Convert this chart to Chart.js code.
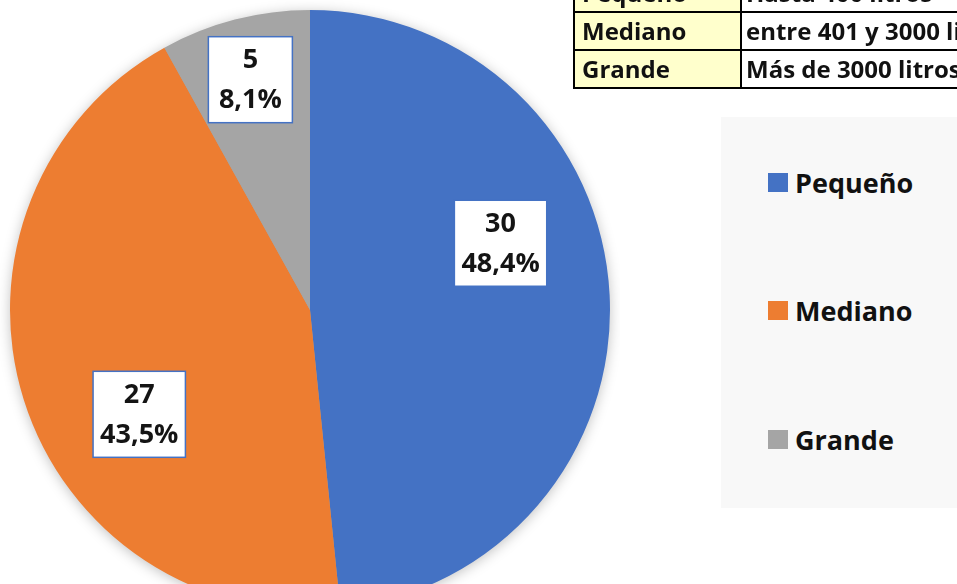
<!DOCTYPE html>
<html>
<head>
<meta charset="utf-8">
<script src="https://cdn.jsdelivr.net/npm/chart.js@4.4.1/dist/chart.umd.min.js"></script>
<style>
  html, body { margin: 0; padding: 0; background: #fff; }
  body { width: 957px; height: 584px; overflow: hidden; position: relative; font-family: 'Open Sans', sans-serif; }
  #pieWrap { position: absolute; left: 0; top: 0; width: 620px; height: 620px; }
  #sizeTable { position: absolute; left: 573px; top: -27px; width: 500px; table-layout: fixed; border-collapse: collapse; font-weight: 700; font-size: 24px; color: #111; }
  #sizeTable td { border: 2px solid #000; height: 36px; padding: 0 0 0 7px; line-height: 36px; white-space: nowrap; overflow: hidden; }
  #sizeTable td.cat { background: #ffffcc; width: 167px; }
  #sizeTable td.desc { background: #fff; padding-left: 4px; }
  #legendBox { position: absolute; left: 721px; top: 117px; width: 250px; height: 391px; background: #f8f8f8; }
  .lg { position: absolute; left: 47px; display: flex; align-items: center; font-weight: 700; font-size: 27px; color: #111; }
  .lg span.sw { display: inline-block; width: 20px; height: 19px; margin-right: 7px; }
</style>
</head>
<body>
<div id="pieWrap"><canvas id="pie" width="620" height="620"></canvas></div>
<table id="sizeTable"><colgroup><col style="width:167px"><col></colgroup></table>
<div id="legendBox"></div>
<script>
// categories and counts
const categories = ['Pequeño', 'Mediano', 'Grande'];
const counts = [30, 27, 5];
const percentLabels = ['48,4%', '43,5%', '8,1%'];
const sliceColors = ['#4472c4', '#ed7d31', '#a5a5a5'];

// size definitions table (top right, partly cut off)
const tableCats = ['Pequeño', 'Mediano', 'Grande'];
const tableDesc = ['Hasta 400 litros', 'entre 401 y 3000 litros', 'Más de 3000 litros'];

// label placement relative to slice middle: angle shift (deg), radius fraction
const labelShift = [-16.4, -14, 0];
const labelRadius = [0.673, 0.667, 0.793];

const table = document.getElementById('sizeTable');
tableCats.forEach((c, i) => {
  const tr = document.createElement('tr');
  tr.innerHTML = `<td class="cat">${c}</td><td class="desc">${tableDesc[i]}</td>`;
  table.appendChild(tr);
});

/** soft shadow under the whole pie */
const pieShadow = {
  id: 'pieShadow',
  beforeDatasetsDraw(chart) {
    const arc = chart.getDatasetMeta(0).data[0];
    if (!arc) return;
    const { x, y, outerRadius } = arc.getProps(['x', 'y', 'outerRadius'], true);
    const ctx = chart.ctx;
    ctx.save();
    ctx.shadowColor = 'rgba(0,0,0,0.28)';
    ctx.shadowBlur = 14;
    ctx.shadowOffsetY = 2;
    ctx.fillStyle = '#a5a5a5';
    ctx.beginPath();
    ctx.arc(x, y, outerRadius - 1, 0, Math.PI * 2);
    ctx.fill();
    ctx.restore();
  },
};

/** boxed value + percent labels */
const boxLabels = {
  id: 'boxLabels',
  afterDatasetsDraw(chart) {
    const ctx = chart.ctx;
    chart.getDatasetMeta(0).data.forEach((arc, i) => {
      const { x, y, startAngle, endAngle, outerRadius } =
        arc.getProps(['x', 'y', 'startAngle', 'endAngle', 'outerRadius'], true);
      const a = (startAngle + endAngle) / 2 + labelShift[i] * Math.PI / 180;
      const r = outerRadius * labelRadius[i];
      const cx = x + Math.cos(a) * r;
      const cy = y + Math.sin(a) * r;
      const l1 = String(counts[i]);
      const l2 = percentLabels[i];
      ctx.save();
      ctx.font = "700 27px 'Open Sans'";
      const w = Math.max(84, Math.max(ctx.measureText(l1).width, ctx.measureText(l2).width) + 14);
      const h = 86;
      ctx.fillStyle = '#fff';
      ctx.fillRect(cx - w / 2, cy - h / 2, w, h);
      ctx.strokeStyle = '#4472c4';
      ctx.lineWidth = 1.5;
      ctx.strokeRect(cx - w / 2, cy - h / 2, w, h);
      ctx.fillStyle = '#141414';
      ctx.textAlign = 'center';
      ctx.textBaseline = 'middle';
      ctx.fillText(l1, cx, cy - 19);
      ctx.fillText(l2, cx, cy + 21);
      ctx.restore();
    });
  },
};

const chart = new Chart(document.getElementById('pie'), {
  type: 'pie',
  data: {
    labels: categories,
    datasets: [{
      data: counts,
      backgroundColor: sliceColors,
      borderWidth: 0,
    }],
  },
  options: {
    responsive: false,
    animation: false,
    devicePixelRatio: 1,
    layout: { padding: 10 },
    plugins: {
      legend: { display: false },
      tooltip: { enabled: false },
    },
  },
  plugins: [pieShadow, boxLabels],
});

// legend built from the chart's own legend items
const legendBox = document.getElementById('legendBox');
const items = Chart.overrides.pie.plugins.legend.labels.generateLabels(chart);
const legendTops = [47, 175, 304];
items.forEach((it, i) => {
  const d = document.createElement('div');
  d.className = 'lg';
  d.style.top = legendTops[i] + 'px';
  d.innerHTML = `<span class="sw" style="background:${it.fillStyle}"></span>${it.text}`;
  legendBox.appendChild(d);
});
</script>
</body>
</html>
